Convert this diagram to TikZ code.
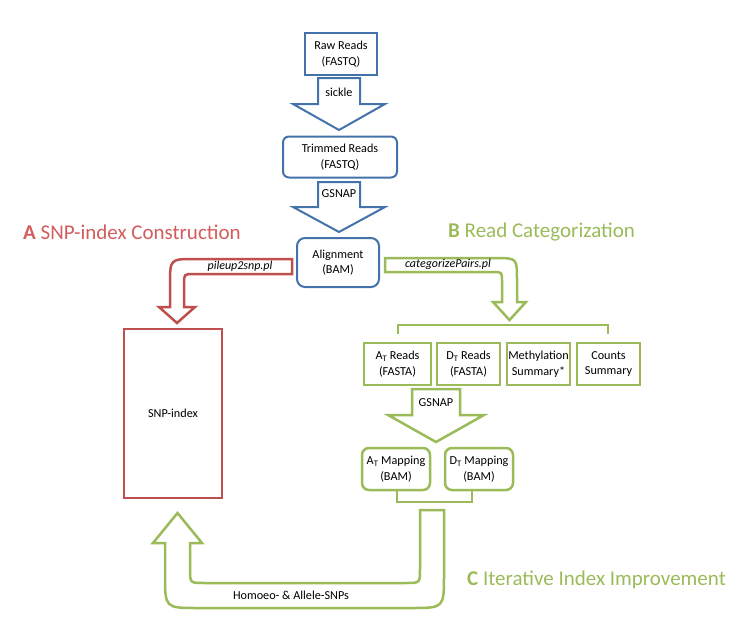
\documentclass[tikz,border=0pt]{standalone}
\usepackage{fontspec}
\setmainfont{Carlito}
\definecolor{cblue}{RGB}{68,114,170}
\definecolor{cred}{RGB}{192,80,77}
\definecolor{credt}{RGB}{212,92,92}
\definecolor{cgreen}{RGB}{155,187,89}
\begin{document}
\begin{tikzpicture}[x=1pt,y=-1pt,
  txt/.style={font=\fontsize{12.2}{15.5}\selectfont, align=center, inner sep=0pt},
  bluebox/.style={txt, draw=cblue, line width=2pt, fill=white},
  greenbox/.style={txt, draw=cgreen, line width=2.5pt, fill=white},
  redbox/.style={txt, draw=cred, line width=2.5pt, fill=white},
  bluearr/.style={draw=cblue, line width=2pt, fill=white, line join=miter},
  greenarr/.style={draw=cgreen, line width=2.5pt, fill=white, line join=miter},
  redarr/.style={draw=cred, line width=2.5pt, fill=white, line join=miter},
  bracket/.style={draw=cgreen, line width=2.5pt},
  heading/.style={font=\fontsize{21}{24}\selectfont, inner sep=0pt, anchor=west},
  lbl/.style={txt},
  ilbl/.style={txt, font=\fontsize{12}{14}\selectfont\itshape}
]
\useasboundingbox (0,0) rectangle (740,624);

% headings
\node[heading, text=credt] (ha) at (23,232) {\textbf{A} SNP-index Construction};
\node[heading, text=cgreen] (hb) at (448,232) {\textbf{B} Read Categorization};
\node[heading, text=cgreen] (hc) at (467,580) {\textbf{C} Iterative Index Improvement};

% blue pipeline
\node[bluebox, minimum width=72pt, minimum height=42pt] (raw) at (341,54) {Raw Reads\\(FASTQ)};
\draw[bluearr] (318,78) -- (360,78) -- (360,104) -- (385,104) -- (339,130) -- (293,104) -- (318,104) -- cycle;
\node[lbl] (sickle) at (339,92) {sickle};
\node[bluebox, rounded corners=6pt, minimum width=114pt, minimum height=41pt] (trim) at (340,157) {Trimmed Reads\\(FASTQ)};
\draw[bluearr] (318,182) -- (360,182) -- (360,207) -- (385,207) -- (339,232) -- (293,207) -- (318,207) -- cycle;
\node[lbl] (gsnap1) at (339,194) {GSNAP};
\node[bluebox, rounded corners=8pt, minimum width=82pt, minimum height=49pt] (align) at (338,262.5) {Alignment\\(BAM)};

% red branch
\draw[redarr] (292,259) -- (195,259) .. controls (170,259) .. (170,284) -- (170,307) -- (159,307) -- (177,323) -- (195,307) -- (184,307) -- (184,284) .. controls (184,274) .. (194,274) -- (292,274) -- cycle;
\node[ilbl] (pileup) at (240,266.5) {pileup2snp.pl};
\node[redbox, minimum width=98pt, minimum height=169pt] (snp) at (173,413.5) {SNP-index};

% green branch
\draw[greenarr] (385,258) -- (495,258) .. controls (517,258) .. (517,280) -- (517,302) -- (526,302) -- (509.5,320) -- (493,302) -- (502,302) -- (502,281) .. controls (502,272) .. (493,272) -- (385,272) -- cycle;
\node[ilbl] (catp) at (448,264.5) {categorizePairs.pl};
\draw[bracket] (398,334) -- (398,325) -- (608,325) -- (608,334);

\node[greenbox, minimum width=67pt, minimum height=42pt] (atr) at (397.5,364) {A\textsubscript{T} Reads\\(FASTA)};
\node[greenbox, minimum width=63pt, minimum height=42pt] (dtr) at (468.5,364) {D\textsubscript{T} Reads\\(FASTA)};
\node[greenbox, minimum width=63pt, minimum height=42pt] (meth) at (538.5,364) {Methylation\\Summary*};
\node[greenbox, minimum width=63pt, minimum height=42pt] (cnt) at (608.5,364) {Counts\\Summary};

\draw[greenarr] (412,389) -- (460,389) -- (460,415) -- (484,415) -- (436,442) -- (388,415) -- (412,415) -- cycle;
\node[lbl] (gsnap2) at (436,403) {GSNAP};

\node[greenbox, rounded corners=7pt, minimum width=68pt, minimum height=42pt] (atm) at (396,469) {A\textsubscript{T} Mapping\\(BAM)};
\node[greenbox, rounded corners=7pt, minimum width=68pt, minimum height=42pt] (dtm) at (479,469) {D\textsubscript{T} Mapping\\(BAM)};
\draw[bracket] (397,491) -- (397,502) -- (472,502) -- (472,491);

% U-turn
\draw[greenarr] (420,510) -- (444,510) -- (444,575) .. controls (444,608) .. (411,608) -- (198,608) .. controls (165,608) .. (165,575) -- (165,543) -- (153,543) -- (177.5,513) -- (202,543) -- (190,543) -- (190,569) .. controls (190,583) .. (204,583) -- (406,583) .. controls (420,583) .. (420,569) -- cycle;
\node[lbl] (homoeo) at (291,595.5) {Homoeo- \& Allele-SNPs};
\end{tikzpicture}
\end{document}
